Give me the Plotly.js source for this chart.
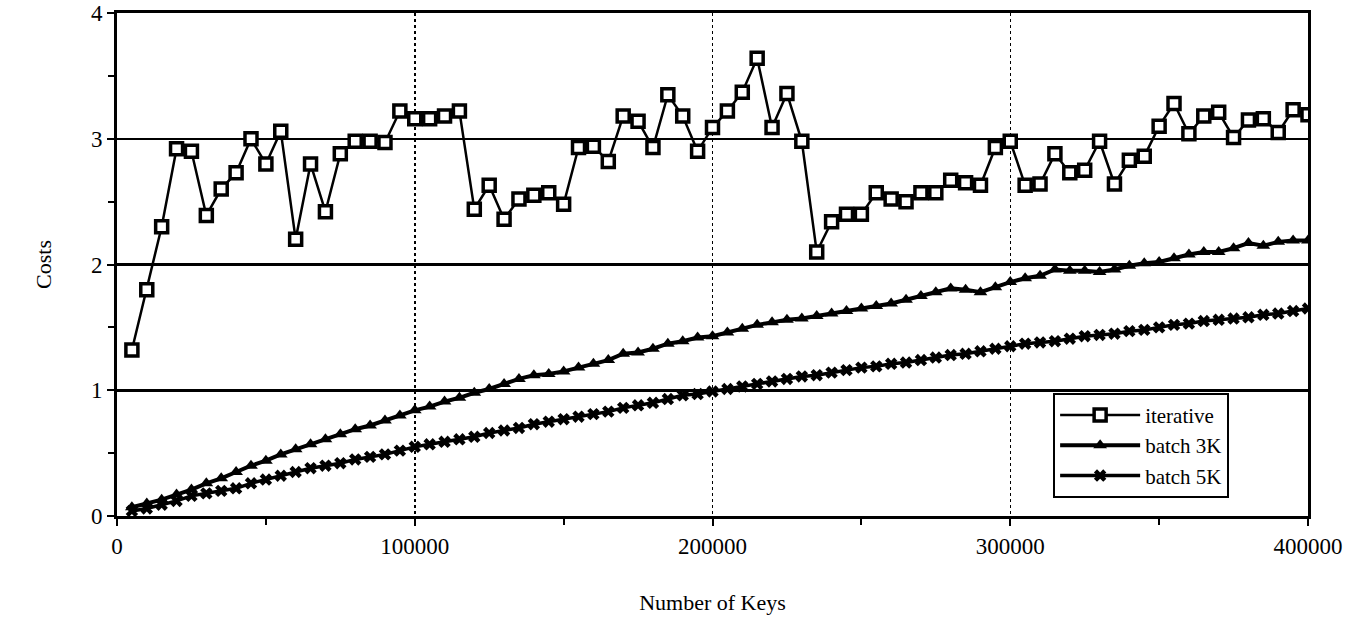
<!DOCTYPE html>
<html>
<head>
<meta charset="utf-8">
<script src="https://cdn.plot.ly/plotly-3.0.1.min.js"></script>
<style>html,body{margin:0;padding:0;background:#fff;}#chart{width:1361px;height:620px;}</style>
</head>
<body>
<div id="chart"></div>
<script>
var keys = [5000,10000,15000,20000,25000,30000,35000,40000,45000,50000,55000,60000,65000,70000,75000,80000,85000,90000,95000,100000,105000,110000,115000,120000,125000,130000,135000,140000,145000,150000,155000,160000,165000,170000,175000,180000,185000,190000,195000,200000,205000,210000,215000,220000,225000,230000,235000,240000,245000,250000,255000,260000,265000,270000,275000,280000,285000,290000,295000,300000,305000,310000,315000,320000,325000,330000,335000,340000,345000,350000,355000,360000,365000,370000,375000,380000,385000,390000,395000,400000];

var iterative = [1.32,1.8,2.3,2.92,2.9,2.39,2.6,2.73,3.0,2.8,3.06,2.2,2.8,2.42,2.88,2.98,2.98,2.97,3.22,3.16,3.16,3.18,3.22,2.44,2.63,2.36,2.52,2.55,2.57,2.48,2.93,2.94,2.82,3.18,3.14,2.93,3.35,3.18,2.9,3.09,3.22,3.37,3.64,3.09,3.36,2.98,2.1,2.34,2.4,2.4,2.57,2.52,2.5,2.57,2.57,2.67,2.65,2.63,2.93,2.98,2.63,2.64,2.88,2.73,2.75,2.98,2.64,2.83,2.86,3.1,3.28,3.04,3.18,3.21,3.01,3.15,3.16,3.05,3.23,3.19];

var batch3K = [0.07,0.1,0.13,0.17,0.21,0.26,0.3,0.35,0.4,0.44,0.49,0.53,0.57,0.61,0.65,0.69,0.72,0.76,0.8,0.84,0.87,0.91,0.94,0.98,1.01,1.05,1.09,1.12,1.13,1.15,1.18,1.21,1.24,1.29,1.3,1.33,1.37,1.39,1.42,1.43,1.46,1.49,1.52,1.54,1.56,1.57,1.59,1.61,1.63,1.65,1.67,1.69,1.72,1.75,1.78,1.81,1.8,1.78,1.82,1.86,1.89,1.91,1.96,1.95,1.95,1.94,1.96,1.99,2.01,2.02,2.05,2.08,2.1,2.1,2.13,2.17,2.15,2.18,2.19,2.19];

var batch5K = [0.04,0.06,0.09,0.12,0.16,0.18,0.2,0.22,0.26,0.29,0.32,0.35,0.38,0.4,0.42,0.45,0.47,0.49,0.52,0.55,0.57,0.59,0.61,0.63,0.66,0.68,0.7,0.73,0.75,0.77,0.79,0.81,0.83,0.86,0.88,0.9,0.93,0.96,0.97,0.99,1.01,1.03,1.05,1.07,1.09,1.11,1.12,1.14,1.16,1.18,1.19,1.21,1.22,1.24,1.26,1.28,1.29,1.31,1.33,1.35,1.37,1.38,1.39,1.41,1.43,1.44,1.45,1.47,1.48,1.5,1.52,1.53,1.55,1.56,1.57,1.58,1.6,1.61,1.63,1.65];

var seriesNames = ["iterative", "batch 3K", "batch 5K"];
var xTicks = [0,100000,200000,300000,400000];
var yTicks = [0,1,2,3,4];

var font = "Liberation Serif, Times New Roman, serif";

var traces = [
  {x: keys, y: iterative, name: seriesNames[0], mode: "lines+markers",
   line: {color: "#000", width: 2.5},
   marker: {symbol: "square", size: 12, color: "#fff", line: {color: "#000", width: 3.5}}},
  {x: keys, y: batch3K, name: seriesNames[1], mode: "lines+markers",
   line: {color: "#000", width: 4},
   marker: {symbol: "triangle-up", size: 12, color: "#000"}},
  {x: keys, y: batch5K, name: seriesNames[2], mode: "lines+markers",
   line: {color: "#000", width: 3.5},
   marker: {symbol: "x", size: 11, color: "#000"}}
];

var layout = {
  width: 1361, height: 620,
  margin: {l: 117, r: 53, t: 13, b: 104},
  paper_bgcolor: "#fff", plot_bgcolor: "#fff",
  font: {family: font, size: 22, color: "#000"},
  showlegend: true,
  legend: {x: 0.786, y: 0.245, xanchor: "left", yanchor: "top",
           bgcolor: "#fff", bordercolor: "#000", borderwidth: 2,
           font: {family: font, size: 21, color: "#000"}, itemwidth: 80, tracegroupgap: 2,
           entrywidth: 245, entrywidthmode: "pixels"},
  xaxis: {
    range: [0, 400000], tickvals: xTicks, ticktext: xTicks.map(String),
    tickfont: {family: font, size: 23, color: "#000"},
    showline: true, mirror: true, linecolor: "#000", linewidth: 3,
    showgrid: true, gridcolor: "#000", gridwidth: 1.5, griddash: "dot",
    zeroline: false, ticks: "outside", ticklen: 7, tickwidth: 2, tickcolor: "#000",
    minor: {dtick: 50000, tick0: 0, ticks: "outside", ticklen: 6, tickwidth: 2, tickcolor: "#000", showgrid: false},
    title: {text: "Number of Keys", font: {family: font, size: 22}, standoff: 38}
  },
  yaxis: {
    range: [0, 4], tickvals: yTicks, ticktext: yTicks.map(String),
    tickfont: {family: font, size: 23, color: "#000"},
    showline: true, mirror: true, linecolor: "#000", linewidth: 3,
    showgrid: true, gridcolor: "#000", gridwidth: 2.5,
    zeroline: false, ticks: "outside", ticklen: 7, tickwidth: 2, tickcolor: "#000",
    minor: {dtick: 0.5, tick0: 0, ticks: "outside", ticklen: 6, tickwidth: 2, tickcolor: "#000", showgrid: false},
    title: {text: "Costs", font: {family: font, size: 22}, standoff: 34}
  }
};

Plotly.newPlot("chart", traces, layout, {staticPlot: true, displayModeBar: false});
</script>
</body>
</html>
